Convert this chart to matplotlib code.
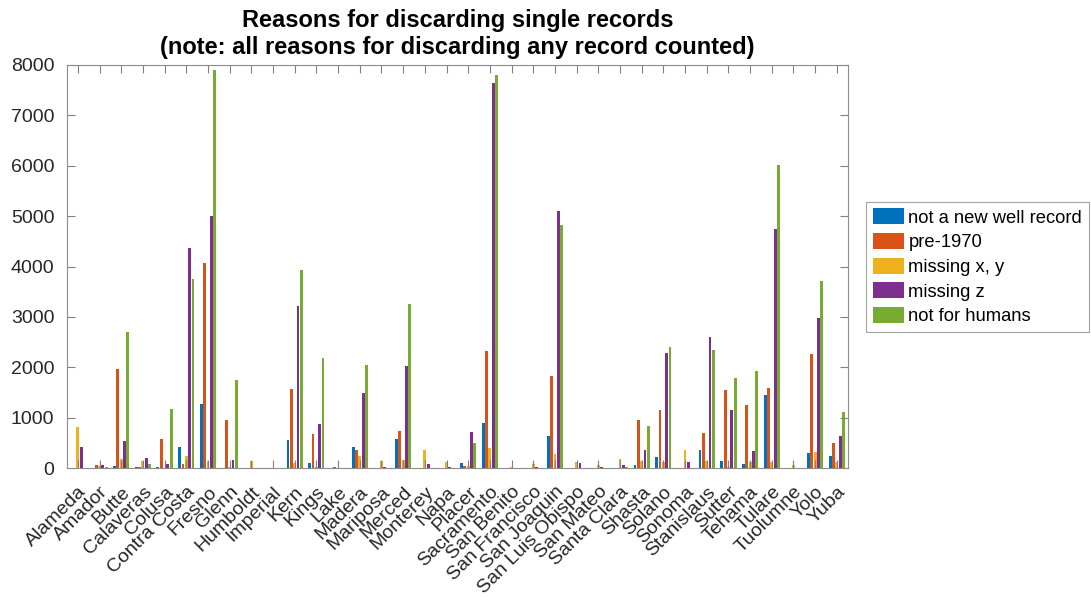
import numpy as np
import matplotlib.pyplot as plt

plt.rcParams["font.family"] = ["Liberation Sans", "DejaVu Sans"]

counties = [
    "Alameda", "Amador", "Butte", "Calaveras", "Colusa", "Contra Costa",
    "Fresno", "Glenn", "Humboldt", "Imperial", "Kern", "Kings", "Lake",
    "Madera", "Mariposa", "Merced", "Monterey", "Napa", "Placer",
    "Sacramento", "San Benito", "San Francisco", "San Joaquin",
    "San Luis Obispo", "San Mateo", "Santa Clara", "Shasta", "Solano",
    "Sonoma", "Stanislaus", "Sutter", "Tehama", "Tulare", "Tuolumne",
    "Yolo", "Yuba",
]

not_new_well = [0, 10, 40, 20, 30, 420, 1280, 0, 0, 0, 550, 100, 0,
                420, 0, 580, 0, 0, 95, 885, 0, 0, 640, 0, 0, 0, 60, 225,
                0, 360, 140, 80, 1440, 0, 300, 235]
pre_1970 = [0, 60, 1960, 15, 580, 80, 4070, 950, 0, 0, 1575, 680, 15,
            350, 0, 730, 0, 0, 45, 2330, 0, 0, 1830, 0, 0, 0, 950, 1160,
            0, 690, 1545, 1260, 1580, 0, 2270, 505]
missing_xy = [805, 40, 170, 145, 10, 230, 140, 30, 145, 0, 105, 20, 0,
              230, 135, 150, 355, 125, 50, 390, 30, 80, 285, 125, 60,
              175, 140, 125, 355, 145, 20, 110, 120, 60, 315, 115]
missing_z = [420, 60, 530, 200, 80, 4365, 5010, 150, 0, 0, 3215, 875, 0,
             1495, 25, 2025, 80, 15, 725, 7645, 0, 15, 5110, 105, 12, 70,
             365, 2280, 110, 2600, 1150, 330, 4750, 8, 2985, 645]
not_for_humans = [10, 30, 2700, 85, 1180, 3760, 7910, 1750, 0, 0, 3940,
                  2180, 0, 2040, 0, 3250, 0, 0, 495, 7810, 0, 0, 4815, 0,
                  0, 12, 840, 2400, 0, 2335, 1790, 1920, 6020, 0, 3710,
                  1110]

reasons = ["not a new well record", "pre-1970", "missing x, y",
           "missing z", "not for humans"]
series = [not_new_well, pre_1970, missing_xy, missing_z, not_for_humans]
colors = ["#0072BD", "#D95319", "#EDB120", "#7E2F8E", "#77AC30"]

x = np.arange(1, len(counties) + 1)
n = len(series)
group_w = min(0.8, n / (n + 1.5))
pitch = group_w / n

fig = plt.figure(figsize=(10.91, 6.05), dpi=100)
ax = fig.add_axes([0.0614, 0.2264, 0.7156, 0.6662])

for i, (vals, col, lab) in enumerate(zip(series, colors, reasons)):
    offs = (i - (n - 1) / 2) * pitch
    ax.bar(x + offs, vals, width=pitch * 0.85, color=col, label=lab,
           edgecolor="none", zorder=1)

ax.set_xlim(0.5, len(counties) + 0.5)
ax.set_ylim(0, 8000)
ax.set_yticks(np.arange(0, 8001, 1000))
ax.set_xticks(x)
ax.set_xticklabels(counties, rotation=45, ha="right", va="top",
                   rotation_mode="anchor", fontsize=14, color="#262626")
ax.tick_params(axis="x", pad=11)
ax.tick_params(axis="y", labelsize=14, labelcolor="#262626", pad=9)
ax.tick_params(direction="in", length=6, width=0.8, color="#808080",
               top=True, right=True, zorder=3)
for sp in ax.spines.values():
    sp.set_color("#8c8c8c")
    sp.set_linewidth(0.8)

ax.set_title("Reasons for discarding single records\n"
             "(note: all reasons for discarding any record counted)",
             fontsize=17, fontweight="bold", pad=8, linespacing=1.2)

leg = fig.legend(loc="upper left", bbox_to_anchor=(0.794, 0.666),
                 fontsize=13.2, frameon=True, fancybox=False,
                 handlelength=1.7, handleheight=0.95, handletextpad=0.25,
                 borderpad=0.35, labelspacing=0.35, borderaxespad=0)
leg.get_frame().set_edgecolor("#8c8c8c")
leg.get_frame().set_linewidth(0.8)

plt.savefig("out.png", dpi=100)
